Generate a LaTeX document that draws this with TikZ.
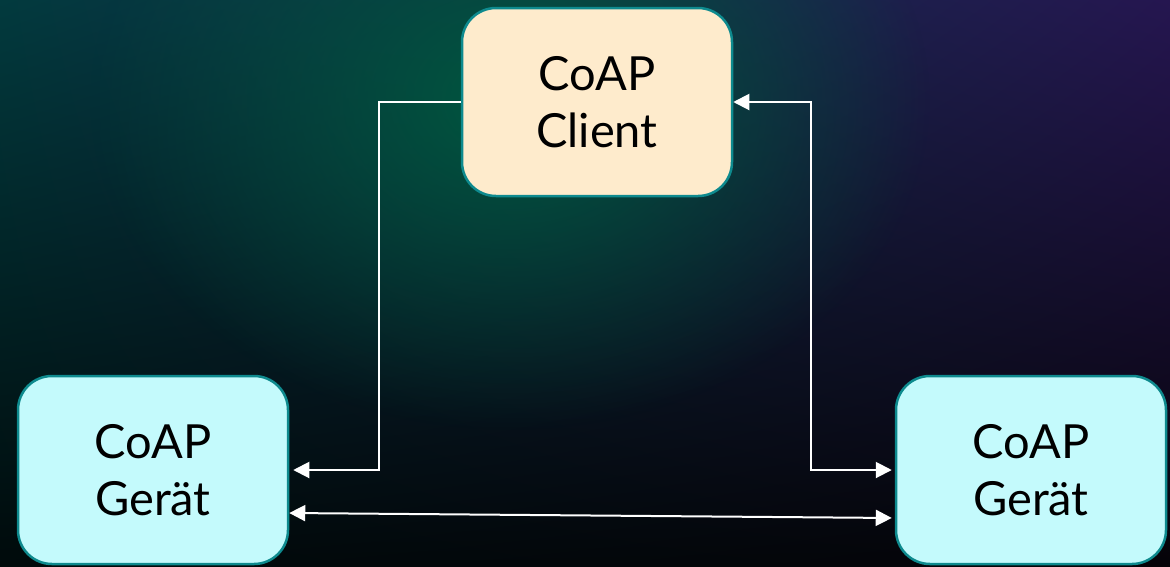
\documentclass[tikz,border=0pt]{standalone}
\usepackage{fontspec}
\setmainfont{Lato}
\usetikzlibrary{arrows.meta,fadings,calc,shadings}
\definecolor{bgUL}{HTML}{023A3E}
\definecolor{bgUR}{HTML}{251650}
\definecolor{bgLL}{HTML}{000A0B}
\definecolor{bgLR}{HTML}{050308}
\definecolor{glowgreen}{HTML}{00573F}
\definecolor{clientfill}{HTML}{FEEBCC}
\definecolor{devfill}{HTML}{C4FAFC}
\definecolor{boxborder}{HTML}{0E8A8E}
\tikzfading[name=glowfade, inner color=transparent!0, outer color=transparent!100]
\tikzset{
  box/.style={draw=boxborder, line width=2.5pt, rounded corners=34pt,
    minimum width=270pt, minimum height=188pt, align=center,
    font=\fontsize{47}{57}\selectfont, text=black, inner sep=0pt},
  clientbox/.style={box, fill=clientfill},
  devbox/.style={box, fill=devfill},
  conn/.style={draw=white, line width=2pt,
    arrows={-Triangle[length=16pt,width=16pt]}},
  conn2/.style={draw=white, line width=2pt,
    arrows={Triangle[length=16pt,width=16pt]-Triangle[length=16pt,width=16pt]}}
}
\begin{document}
\begin{tikzpicture}[x=1pt,y=-1pt]
\useasboundingbox (0,0) rectangle (1170,566);
\shade[upper left=bgUL, upper right=bgUR, lower left=bgLL, lower right=bgLR] (0,0) rectangle (1170,566);
\begin{scope}
\clip (0,0) rectangle (1170,566);
\fill[glowgreen, path fading=glowfade] (510,100) ellipse (420 and 330);
\end{scope}
\node[clientbox] (client) at (597,102) {CoAP\\Client};
\node[devbox] (lg) at (153,470) {CoAP\\Gerät};
\node[devbox] (rg) at (1031,470) {CoAP\\Gerät};
\coordinate (lc) at (379,300);
\coordinate (rc) at (811,300);
\draw[conn, shorten >=4pt] (client.west) -| (lc) |- (lg.east);
\draw[conn2, shorten >=3pt] (client.east) -| (rc) |- (rg.west);
\draw[conn2, shorten >=3pt] ($(lg.east)+(0,43)$) -- ($(rg.west)+(0,48)$);
\end{tikzpicture}
\end{document}
